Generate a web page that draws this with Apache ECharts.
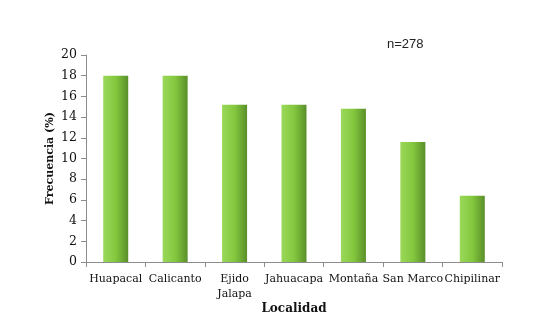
<!DOCTYPE html>
<html><head><meta charset="utf-8">
<script src="https://cdn.jsdelivr.net/npm/echarts@6/dist/echarts.min.js"></script>
<style>html,body{margin:0;padding:0;background:#fff}#c{width:540px;height:327px}</style>
</head><body><div id="c"></div>
<script>
const categories = ["Huapacal", "Calicanto", "Ejido\nJalapa", "Jahuacapa", "Montaña", "San Marco", "Chipilinar"];
const values = [18.0, 18.0, 15.2, 15.2, 14.8, 11.6, 6.4];
const yTicks = { min: 0, max: 20, interval: 2 };
const fontSerif = "'DejaVu Serif', 'Liberation Serif', serif";
const chart = echarts.init(document.getElementById('c'), null, { renderer: 'canvas' });
chart.setOption({
  animation: false,
  backgroundColor: '#fff',
  grid: { left: 86, right: 38, top: 55, bottom: 65, containLabel: false },
  graphic: [{ type: 'text', left: 387, top: 38, style: { text: 'n=278', font: "13px 'Liberation Sans', Arial, sans-serif", fill: '#222' } }],
  xAxis: {
    type: 'category', data: categories, boundaryGap: true,
    axisLine: { lineStyle: { color: '#8c8c8c' } },
    axisTick: { show: true, alignWithLabel: false, length: 5, lineStyle: { color: '#8c8c8c' } },
    axisLabel: { color: '#111', fontFamily: fontSerif, fontSize: 11, margin: 10, interval: 0, lineHeight: 15 },
    name: 'Localidad', nameLocation: 'middle', nameGap: 41, nameMoveOverlap: false,
    nameTextStyle: { color: '#111', fontFamily: fontSerif, fontSize: 12, fontWeight: 'bold' }
  },
  yAxis: {
    type: 'value', min: yTicks.min, max: yTicks.max, interval: yTicks.interval,
    axisLine: { show: true, lineStyle: { color: '#8c8c8c' } },
    axisTick: { show: true, length: 5, lineStyle: { color: '#8c8c8c' } },
    splitLine: { show: false },
    axisLabel: { color: '#111', fontFamily: fontSerif, fontSize: 12.5, margin: 9 },
    name: 'Frecuencia (%)', nameLocation: 'middle', nameGap: 30, nameRotate: 90, nameMoveOverlap: false,
    nameTextStyle: { color: '#111', fontFamily: fontSerif, fontSize: 11, fontWeight: 'bold' }
  },
  series: [{
    type: 'bar', data: values, barWidth: 25,
    itemStyle: {
      color: new echarts.graphic.LinearGradient(0, 0, 1, 0, [
        { offset: 0, color: '#9ad85a' },
        { offset: 0.5, color: '#84c83e' },
        { offset: 1, color: '#5a8f2a' }
      ])
    }
  }]
});
</script></body></html>
